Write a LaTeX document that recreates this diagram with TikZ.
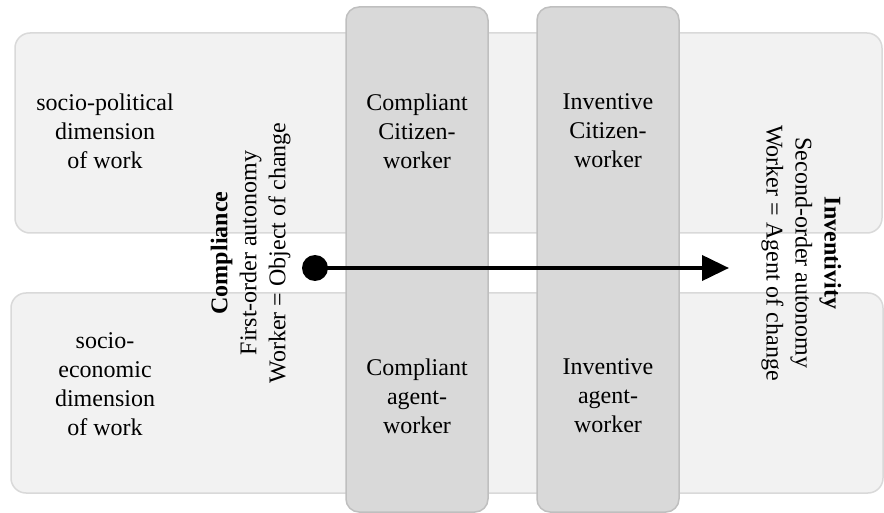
\documentclass[tikz,border=0pt]{standalone}
\usepackage{fontspec}
\setmainfont{Liberation Serif}
\usetikzlibrary{arrows.meta}
\definecolor{rowfill}{HTML}{F2F2F2}
\definecolor{rowline}{HTML}{D9D9D9}
\definecolor{colfill}{HTML}{D9D9D9}
\definecolor{colline}{HTML}{BFBFBF}
\tikzset{
  rowbox/.style={draw=rowline, fill=rowfill, line width=1.5pt, rounded corners=15pt,
    minimum width=#1, minimum height=200pt, inner sep=0pt},
  colbox/.style={draw=colline, fill=colfill, line width=1.5pt, rounded corners=13pt,
    minimum width=142pt, minimum height=505pt, inner sep=0pt},
  lbl/.style={align=center, font=\fontsize{24}{29}\selectfont, inner sep=0pt, text depth=0pt},
}
\begin{document}
\begin{tikzpicture}[x=1pt, y=-1pt]
\useasboundingbox (0,0) rectangle (884,513);
% horizontal dimension boxes
\node[rowbox=867pt] (toprow) at (448.5,133) {};
\node[rowbox=872pt] (botrow) at (447,393) {};
% vertical worker columns
\node[colbox] (colA) at (417,259.5) {};
\node[colbox] (colB) at (608,259.5) {};
% texts
\node[lbl] (polit) at (105,131) {socio-political\\dimension\\of work};
\node[lbl] (econ) at (105,384) {socio-\\economic\\dimension\\of work};
\node[lbl] (cc) at (417,131) {Compliant\\Citizen-\\worker};
\node[lbl] (ca) at (417,396) {Compliant\\agent-\\worker};
\node[lbl] (ic) at (608,131) {Inventive\\Citizen-\\worker};
\node[lbl] (ia) at (608,396) {Inventive\\agent-\\worker};
\node[lbl, rotate=90] (compl) at (248,253) {\textbf{Compliance}\\First-order autonomy\\Worker = Object of change};
\node[lbl, rotate=-90] (invent) at (804,253) {\textbf{Inventivity}\\Second-order autonomy\\Worker = Agent of change};
% arrow
\node[circle, fill=black, minimum size=26pt, inner sep=0pt] (dot) at (315,268) {};
\coordinate (tip) at (729,268);
\draw[line width=4pt, -{Triangle[length=27pt,width=25pt]}] (dot.center) -- (tip);
\end{tikzpicture}
\end{document}
